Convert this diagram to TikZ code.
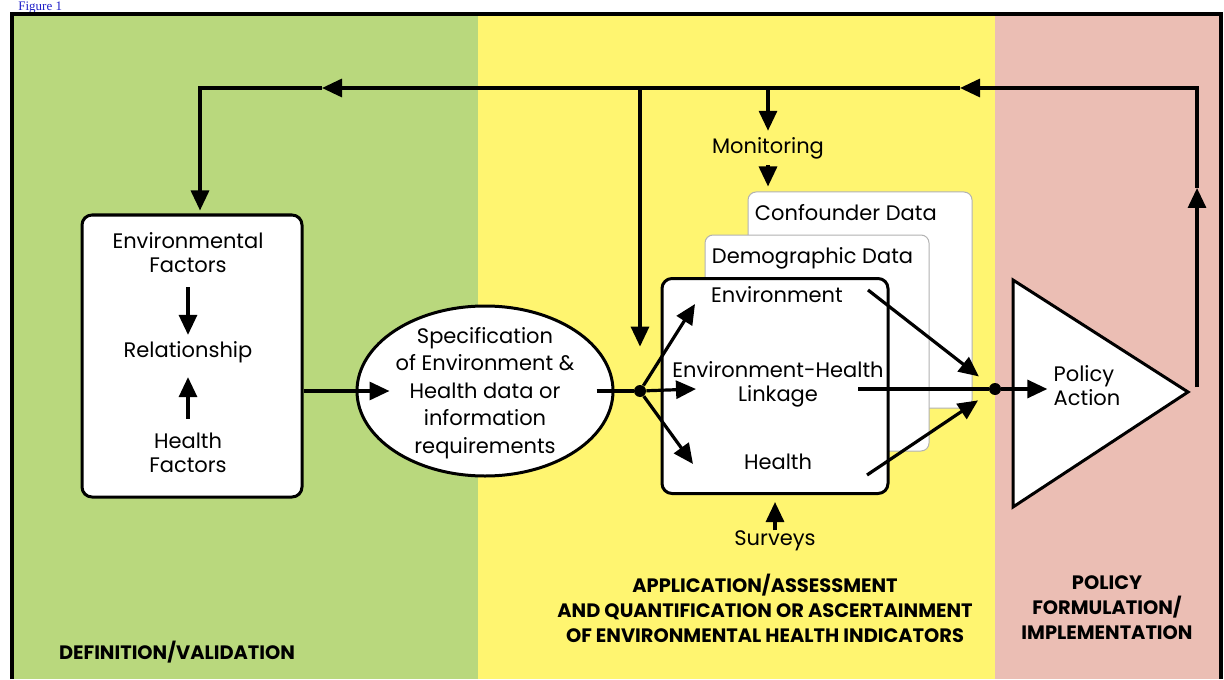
\documentclass[tikz,border=0pt]{standalone}
\usepackage{fontspec}
\setmainfont{Poppins}
\newfontfamily\figfont{Liberation Serif}
\usetikzlibrary{shapes.geometric,arrows.meta,positioning}
\definecolor{defgreen}{RGB}{185,216,125}
\definecolor{appyellow}{RGB}{255,245,112}
\definecolor{polpink}{RGB}{235,190,180}
\definecolor{linkblue}{RGB}{30,30,200}
\tikzset{
  arr/.style={line width=1.6pt,-{Triangle[length=10pt,width=9pt]}},
  panel/.style={draw,line width=1.5pt,fill=white,rounded corners=5pt},
  databox/.style={draw=gray!60,line width=0.5pt,fill=white,rounded corners=4pt,
    minimum width=112pt,minimum height=108pt},
  txt/.style={font=\fontsize{10.5}{12}\selectfont,align=center,inner sep=3pt},
  stage/.style={font=\fontsize{9.7}{12.5}\selectfont\bfseries,align=center},
  dot/.style={circle,fill,inner sep=0pt,minimum size=6pt}
}
\begin{document}
\begin{tikzpicture}[x=0.5pt,y=-0.5pt]
\useasboundingbox (0,0) rectangle (1224,679);
\fill[white] (0,0) rectangle (1224,679);
\node[anchor=base west,inner sep=0pt,text=linkblue,font=\figfont\fontsize{6.5}{8}\selectfont] (figlink) at (18,11) {Figure 1};
% stage backgrounds
\fill[defgreen] (12,14) rectangle (478,679);
\fill[appyellow] (478,14) rectangle (995,679);
\fill[polpink] (995,14) rectangle (1221,679);
\draw[line width=2pt] (12,679) -- (12,14) -- (1221,14) -- (1221,679);

% definition box
\node[panel,minimum width=110pt,minimum height=141pt] (def) at (192,356) {};
\node[txt] (envf) at (188,253) {Environmental\\Factors};
\node[txt] (rel) at (188,352) {Relationship};
\node[txt] (hlthf) at (188,453) {Health\\Factors};
\draw[arr,shorten <=4pt] (envf) -- (rel);
\draw[arr,shorten <=4pt,shorten >=4pt] (hlthf) -- (rel);

% specification
\node[ellipse,draw,line width=1.5pt,fill=white,minimum width=128pt,minimum height=85pt] (spec) at (485,391) {};
\node[txt,font=\fontsize{10.5}{13.75}\selectfont] (spectxt) at ([yshift=-1pt]spec.center) {Specification\\of Environment \&\\Health data or\\information\\requirements};
\node[dot] (split) at (640,391) {};
\draw[arr] (def.east |- split) -- ([xshift=17pt]spec.west);
\draw[line width=1.6pt] ([xshift=-9pt]spec.east) -- (split);

% data boxes
\node[databox] (conf) at (860,300) {};
\node[txt,anchor=north west] (conft) at ([shift={(0.5pt,-3.5pt)}]conf.north west) {Confounder Data};
\node[databox] (demo) at (817,343) {};
\node[txt,anchor=north west] (demot) at ([shift={(0.5pt,-3.5pt)}]demo.north west) {Demographic Data};
\node[panel,minimum width=113pt,minimum height=107.5pt] (core) at (775,386) {};
\node[txt] (envt) at (777,295) {Environment};
\node[txt] (linkt) at (778,384) {Environment-Health\\Linkage};
\node[txt] (hlth) at (778,462) {Health};

\coordinate (toenv) at (695,304);
\coordinate (tolink) at (696,389);
\coordinate (tohlth) at (693,464);
\draw[arr] (split) -- (toenv);
\draw[arr] (split) -- (tolink);
\draw[arr] (split) -- (tohlth);

\node[dot] (merge) at (995,389) {};
\coordinate (envout) at (868,290);
\coordinate (linkout) at (858,389);
\coordinate (hlthout) at (867,475);
\draw[arr,shorten >=7pt] (envout) -- (merge);
\draw[line width=1.6pt] (linkout) -- (merge);
\draw[arr,shorten >=7pt] (hlthout) -- (merge);

% policy
\draw[line width=1.5pt,fill=white] (1013,280) -- (1188,392) coordinate (apex) -- (1013,507) -- cycle;
\node[txt,align=left] (pol) at (1087,386) {Policy\\Action};
\draw[arr] (merge) -- (merge -| pol.west);

% feedback loop
\coordinate (ret) at (1197,387);
\coordinate (retup) at (1197,188);
\coordinate (retleft) at (960,88);
\coordinate (fbmid) at (322,88);
\coordinate (fork) at (640,88);
\coordinate (monin) at (768,88);
\draw[arr] (ret) -- (retup);
\draw[arr] (retup) |- (retleft);
\draw[arr] (retleft) -- (fbmid);
\draw[arr,shorten >=1.5pt] (fbmid) -| ([xshift=4pt]def.north);
\draw[arr,shorten >=19pt] (fork) -- (split);

\node[txt] (mon) at (768,148) {Monitoring};
\draw[arr] (monin) -- (mon);
\draw[arr,shorten >=2.5pt] (mon) -- (mon |- conf.north);
\node[txt] (srv) at (775,541) {Surveys};
\draw[arr,shorten <=-3pt,shorten >=3.5pt] (srv) -- (srv |- core.south);

% stage labels
\node[stage] (defl) at (177,652) {DEFINITION/VALIDATION};
\node[stage] (appl) at (765,608) {APPLICATION/ASSESSMENT\\AND QUANTIFICATION OR ASCERTAINMENT\\OF ENVIRONMENTAL HEALTH INDICATORS};
\node[stage] (poll) at (1107,608) {POLICY\\FORMULATION/\\IMPLEMENTATION};
\end{tikzpicture}
\end{document}
